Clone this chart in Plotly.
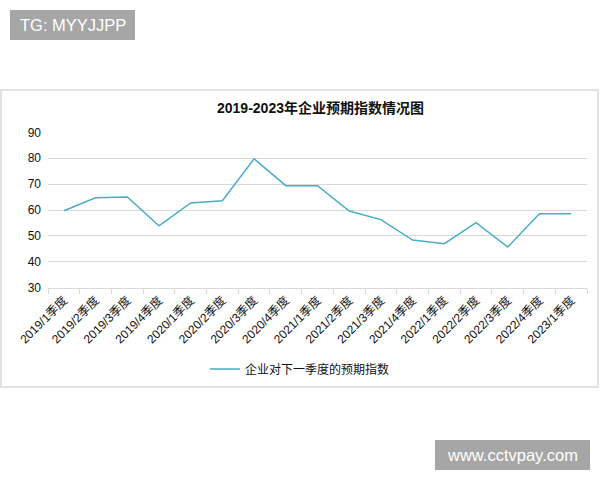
import plotly.graph_objects as go

# quarterly expectation index
quarters = [
    "2019/1季度", "2019/2季度", "2019/3季度", "2019/4季度",
    "2020/1季度", "2020/2季度", "2020/3季度", "2020/4季度",
    "2021/1季度", "2021/2季度", "2021/3季度", "2021/4季度",
    "2022/1季度", "2022/2季度", "2022/3季度", "2022/4季度",
    "2023/1季度",
]
expect_index = [
    59.7, 64.7, 65.0, 53.9,
    62.7, 63.6, 79.8, 69.4,
    69.4, 59.6, 56.3, 48.4,
    47.0, 55.1, 45.7, 58.6,
    58.6,
]
series_name = "企业对下一季度的预期指数"
chart_title = "2019-2023年企业预期指数情况图"
y_ticks = [30, 40, 50, 60, 70, 80, 90]

W, H = 600, 480
FONT = "Liberation Sans, Arial, Noto Sans CJK SC, sans-serif"
GRID = "#d9d9d9"
LINE = "#4bacc6"
TEXT = "#111"


def px_x(v):
    return v / W


def px_y(v):
    return 1 - v / H


fig = go.Figure()
fig.add_trace(
    go.Scatter(
        x=quarters,
        y=expect_index,
        mode="lines",
        name=series_name,
        line=dict(color=LINE, width=1.5),
    )
)

fig.update_layout(
    width=W,
    height=H,
    margin=dict(l=0, r=0, t=0, b=0),
    paper_bgcolor="white",
    plot_bgcolor="white",
    font=dict(family=FONT, color=TEXT, size=11),
    showlegend=True,
    legend=dict(
        orientation="h",
        x=px_x(300),
        xanchor="center",
        y=px_y(369),
        yanchor="middle",
        font=dict(size=12, color=TEXT),
        itemwidth=30,
    ),
    xaxis=dict(
        domain=[px_x(48), px_x(587)],
        range=[-0.5, len(quarters) - 0.5],
        automargin=False,
        showgrid=False,
        showline=True,
        linecolor=GRID,
        ticks="outside",
        tickson="boundaries",
        ticklen=5,
        tickcolor=GRID,
        tickangle=-45,
        tickfont=dict(size=12, color=TEXT),
    ),
    yaxis=dict(
        domain=[px_y(287.7), px_y(132.3)],
        range=[30, 90],
        automargin=False,
        tickvals=y_ticks,
        showgrid=True,
        gridcolor=GRID,
        gridwidth=1,
        zeroline=False,
        showline=False,
        ticks="",
        ticklabelstandoff=6,
        tickfont=dict(size=12, color=TEXT),
    ),
)

# chart frame
fig.add_shape(
    type="rect", xref="paper", yref="paper",
    x0=px_x(1), x1=px_x(598), y0=px_y(387), y1=px_y(90),
    line=dict(color=GRID, width=1.5), fillcolor="rgba(0,0,0,0)", layer="below",
)
fig.add_annotation(
    text=chart_title, xref="paper", yref="paper",
    x=px_x(320), y=px_y(108), xanchor="center", yanchor="middle",
    showarrow=False, font=dict(size=14, color=TEXT, family=FONT, weight="bold"),
)

# watermark boxes
for text, x0, x1, y0, y1 in [
    ("TG: MYYJJPP", 10, 135, 10, 40),
    ("www.cctvpay.com", 435, 590, 440, 470),
]:
    fig.add_shape(
        type="rect", xref="paper", yref="paper",
        x0=px_x(x0), x1=px_x(x1), y0=px_y(y1), y1=px_y(y0),
        line=dict(width=0), fillcolor="#a6a6a6",
    )
    fig.add_annotation(
        text=text, xref="paper", yref="paper",
        x=px_x((x0 + x1) / 2), y=px_y((y0 + y1) / 2),
        xanchor="center", yanchor="middle", showarrow=False,
        font=dict(size=16.5, color="white", family=FONT),
    )

# the page puts an 8px margin round the body by default; drop it
fig.write_html(
    "out.html",
    config={"displayModeBar": False},
    post_script="document.body.style.margin='0';",
)
